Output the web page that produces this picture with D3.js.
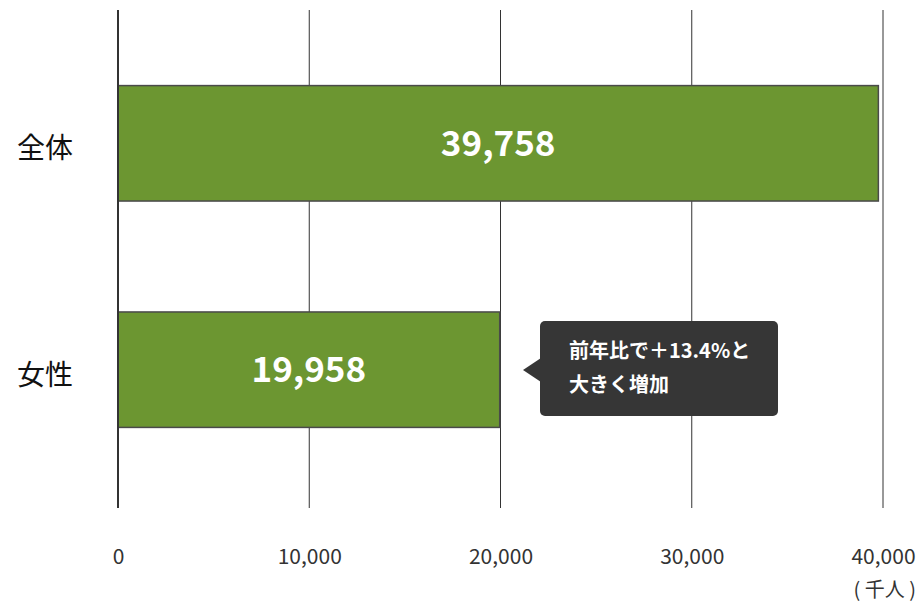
<!DOCTYPE html>
<html>
<head>
<meta charset="utf-8">
<script src="https://cdn.jsdelivr.net/npm/d3@7"></script>
<style>
  html, body { margin: 0; padding: 0; background: #fff; }
  svg { display: block; font-family: "Noto Sans CJK JP", "Noto Sans", sans-serif; }
</style>
</head>
<body>
<svg id="chart" width="919" height="602"></svg>
<script>
// Categories and values (thousands of people)
const categories = ["全体", "女性"];
const values = [39758, 19958];
const tickValues = [0, 10000, 20000, 30000, 40000];
const unitLabel = "( 千人 )";
const calloutLines = ["前年比で＋13.4%と", "大きく増加"];

const svg = d3.select("#chart");
const plotLeft = 118, plotRight = 883, plotTop = 10, plotBottom = 508;
const fontStack = "\"Noto Sans CJK JP\", \"Noto Sans\", sans-serif";

const x = d3.scaleLinear().domain([0, 40000]).range([plotLeft, plotRight]);
const y = d3.scaleBand().domain(categories).range([29, 484]).paddingInner(0.49).paddingOuter(0.25);

// Vertical grid lines
svg.append("g").selectAll("line")
  .data(tickValues.slice(1))
  .join("line")
  .attr("x1", d => x(d)).attr("x2", d => x(d))
  .attr("y1", plotTop).attr("y2", plotBottom)
  .attr("stroke", "#333").attr("stroke-width", 1);

// Bars
svg.append("g").selectAll("rect")
  .data(values)
  .join("rect")
  .attr("x", x(0))
  .attr("y", (d, i) => y(categories[i]))
  .attr("width", d => x(d) - x(0))
  .attr("height", y.bandwidth())
  .attr("fill", "#6c9631")
  .attr("stroke", "#4a4a4a")
  .attr("stroke-width", 1.5);

// Baseline axis
svg.append("line")
  .attr("x1", x(0)).attr("x2", x(0))
  .attr("y1", plotTop).attr("y2", plotBottom)
  .attr("stroke", "#333").attr("stroke-width", 2);

// Value labels inside bars
svg.append("g").selectAll("text")
  .data(values)
  .join("text")
  .attr("x", d => (x(0) + x(d)) / 2)
  .attr("y", (d, i) => y(categories[i]) + y.bandwidth() / 2)
  .attr("dy", "0.36em")
  .attr("text-anchor", "middle")
  .attr("fill", "#fff")
  .attr("font-size", 35)
  .attr("font-weight", 700)
  .text(d => d3.format(",")(d));

// Category labels
svg.append("g").selectAll("text")
  .data(categories)
  .join("text")
  .attr("x", 17)
  .attr("y", d => y(d) + y.bandwidth() / 2 + 5)
  .attr("dy", "0.36em")
  .attr("fill", "#111")
  .attr("font-size", 28)
  .text(d => d);

// Tick labels
const axis = d3.axisBottom(x).tickValues(tickValues).tickSize(0).tickPadding(0).tickFormat(d3.format(","));
const axisG = svg.append("g").attr("transform", "translate(0,549)").call(axis);
axisG.attr("font-size", 21).attr("font-family", fontStack);
axisG.select(".domain").remove();
axisG.selectAll("text")
  .attr("fill", "#333")
  .attr("font-size", 21)
  .attr("font-family", fontStack);

svg.append("text")
  .attr("x", 916)
  .attr("y", 597)
  .attr("text-anchor", "end")
  .attr("fill", "#333")
  .attr("font-size", 20)
  .text(unitLabel);

// Callout pointing at the second bar
const bx = 540, by = 321, bw = 238, bh = 95;
const callout = svg.append("g");
callout.append("rect")
  .attr("x", bx).attr("y", by).attr("width", bw).attr("height", bh)
  .attr("rx", 5).attr("fill", "#363636");
callout.append("path")
  .attr("d", `M${bx + 1},${by + 37} L${bx - 17},${by + 49} L${bx + 1},${by + 61} Z`)
  .attr("fill", "#363636");
callout.selectAll("text")
  .data(calloutLines)
  .join("text")
  .attr("x", bx + 29)
  .attr("y", (d, i) => by + 37 + i * 34)
  .attr("fill", "#fff")
  .attr("font-size", 20)
  .attr("font-weight", 700)
  .text(d => d);
</script>
</body>
</html>
